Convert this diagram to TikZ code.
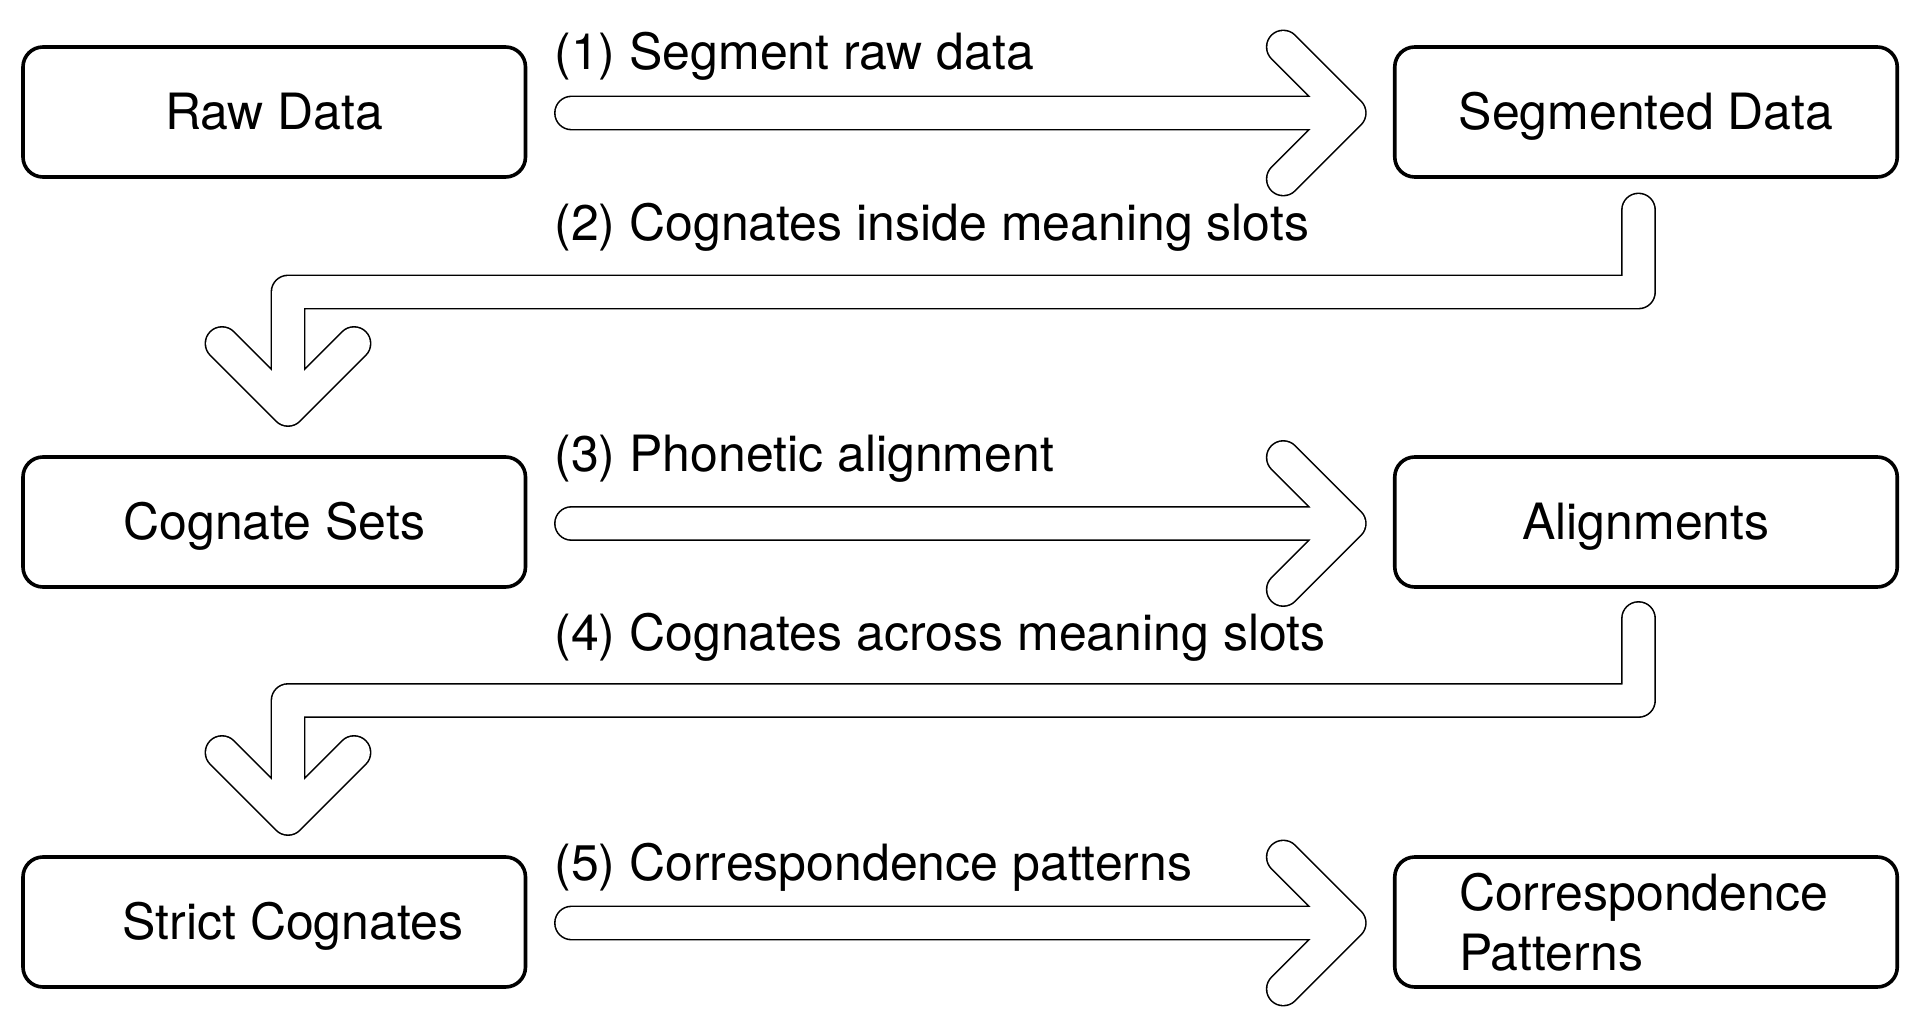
\documentclass[tikz,border=0pt]{standalone}
\usepackage{fontspec}
\setmainfont{TeX Gyre Heros}
\usetikzlibrary{calc}
\begin{document}
\begin{tikzpicture}[x=0.5pt,y=-0.5pt,
  boxbase/.style={draw=black, line width=1.8pt, rounded corners=10pt,
    minimum width=251.25pt, minimum height=65pt, outer sep=0pt, inner sep=0pt,
    font=\fontsize{25pt}{30pt}\selectfont},
  box/.style={boxbase, text height=17.6pt, text depth=0pt},
  boxml/.style={boxbase, align=left, text width=187pt},
  lab/.style={anchor=base west, inner sep=0pt, font=\fontsize{25pt}{30pt}\selectfont},
  fat/.style={draw=black, line width=0.8pt, double=white, double distance=15.85pt,
    line cap=round, line join=round}
]
\fill[white] (0,0) rectangle (1920,1015);
\useasboundingbox (0,0) rectangle (1920,1015);

% boxes
\node[box] (raw) at (274.25,112) {Raw Data};
\node[box] (seg) at (1646,112) {Segmented Data};
\node[box] (cog) at (274.25,522) {Cognate Sets};
\node[box] (alg) at (1646,522) {Alignments};
\node[box] (str) at (274.25,922) {\makebox[151.75pt][l]{Strict Cognates}};
\node[boxml] (cor) at (1646,922) {Correspondence\\Patterns};

% arrow 1
\coordinate (a1s) at ($(raw.east)+(46,1)$);
\coordinate (a1v) at ($(seg.west)+(-45.5,1)$);
\draw[fat] (a1s) -- (a1v) ($(a1v)+(-66,-66)$) -- (a1v) -- ($(a1v)+(-66,66)$);

% arrow 2
\coordinate (a2s) at ($(seg.south)+(-7.5,33)$);
\coordinate (a2v) at ($(cog.north)+(13.75,-47.5)$);
\coordinate (a2c) at ($(a2v)+(0,-117.5)$);
\draw[fat] (a2s) |- (a2c) -- (a2v) ($(a2v)+(-66,-66)$) -- (a2v) -- ($(a2v)+(66,-66)$);

% arrow 3
\coordinate (a3s) at ($(cog.east)+(46,1.5)$);
\coordinate (a3v) at ($(alg.west)+(-45.5,1.5)$);
\draw[fat] (a3s) -- (a3v) ($(a3v)+(-66,-66)$) -- (a3v) -- ($(a3v)+(-66,66)$);

% arrow 4
\coordinate (a4s) at ($(alg.south)+(-7.5,31.5)$);
\coordinate (a4v) at ($(str.north)+(13.75,-38.5)$);
\coordinate (a4c) at ($(a4v)+(0,-118)$);
\draw[fat] (a4s) |- (a4c) -- (a4v) ($(a4v)+(-66,-66)$) -- (a4v) -- ($(a4v)+(66,-66)$);

% arrow 5
\coordinate (a5s) at ($(str.east)+(46,1)$);
\coordinate (a5v) at ($(cor.west)+(-45.5,1)$);
\draw[fat] (a5s) -- (a5v) ($(a5v)+(-66,-66)$) -- (a5v) -- ($(a5v)+(-66,66)$);

% labels
\node[lab] (l1) at (554,69.5) {(1) Segment raw data};
\node[lab] (l2) at (554,241) {(2) Cognates inside meaning slots};
\node[lab] (l3) at (554,472) {(3) Phonetic alignment};
\node[lab] (l4) at (554,650) {(4) Cognates across meaning slots};
\node[lab] (l5) at (554,880) {(5) Correspondence patterns};
\end{tikzpicture}
\end{document}
